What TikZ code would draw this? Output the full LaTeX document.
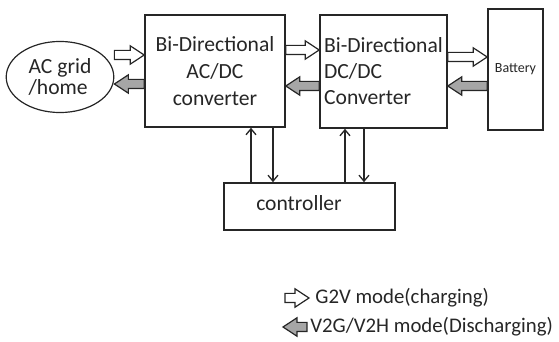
\documentclass[tikz,border=0pt]{standalone}
\usepackage{fontspec}
\setmainfont{Carlito}
\usetikzlibrary{shapes.geometric,arrows.meta,calc}

\tikzset{
  block/.style={draw=black!85, line width=0.8pt, inner sep=1pt},
  blockarrow/.style={draw=black!85, line width=0.6pt, fill=#1, line join=miter,
    to path={let \p1=(\tikztostart), \p2=(\tikztotarget),
      \n1={\x2-7pt*sign(\x2-\x1)} in
      (\x1,\y1+2.3pt) -- (\n1,\y1+2.3pt) -- (\n1,\y1+4.6pt) -- (\x2,\y1)
      -- (\n1,\y1-4.6pt) -- (\n1,\y1-2.3pt) -- (\x1,\y1-2.3pt) -- cycle}},
  ctlarrow/.style={draw=black!85, line width=0.65pt, -{Straight Barb[length=3pt,width=5pt]}},
  legend/.style={anchor=west, font=\fontsize{10.4}{12}\selectfont},
}

\begin{document}
\begin{tikzpicture}[x=0.5pt, y=-0.5pt, font=\fontsize{10.8}{13.5}\selectfont, text=black!85]
  \useasboundingbox (0,0) rectangle (559,342);

  % grid, converters and battery
  \node[ellipse, draw=black!85, line width=0.6pt, minimum width=48.5pt, minimum height=35pt,
        align=left, font=\fontsize{10.8}{10.5}\selectfont] (grid) at (60,77) {AC grid\\/home};
  \node[block, minimum width=70pt, minimum height=56pt, align=center] (acdc) at (215,71)
        {Bi-Directional\\AC/DC\\converter};
  \node[block, minimum width=63.5pt, minimum height=56.5pt, align=left,
        font=\fontsize{10.8}{13}\selectfont] (dcdc) at (383.5,71.5)
        {Bi-Directional\\DC/DC\\Converter};
  \node[block, minimum width=27.5pt, minimum height=60.5pt, font=\fontsize{7}{8}\selectfont]
        (battery) at (515.5,69.5) {Battery};
  \node[block, minimum width=85.5pt, minimum height=23.5pt] (ctrl) at (309.5,206.5) {};
  \node (ctrltext) at (299,203) {controller};

  % power flow
  \draw[blockarrow=white] (grid.east |- 0,55) to (acdc.west |- 0,55);
  \draw[blockarrow=black!35] (acdc.west |- 0,84) to (grid.east |- 0,84);
  \draw[blockarrow=white] (acdc.east |- 0,50) to (dcdc.west |- 0,50);
  \draw[blockarrow=black!35] (dcdc.west |- 0,86) to (acdc.east |- 0,86);
  \draw[blockarrow=white] (dcdc.east |- 0,57) to (battery.west |- 0,57);
  \draw[blockarrow=black!35] (battery.west |- 0,86) to (dcdc.east |- 0,86);

  % control signals
  \draw[ctlarrow] (ctrl.north -| 251,0) -- (acdc.south -| 251,0);
  \draw[ctlarrow] (acdc.south -| 273,0) -- (ctrl.north -| 273,0);
  \draw[ctlarrow] (ctrl.north -| 345,0) -- (dcdc.south -| 345,0);
  \draw[ctlarrow] (dcdc.south -| 364,0) -- (ctrl.north -| 364,0);

  % legend
  \coordinate (g2vtail) at (285,298);
  \node[legend, inner xsep=3pt] (g2v) at (309,298) {G2V mode(charging)};
  \draw[blockarrow=white] (g2vtail) to (g2v.west);
  \coordinate (v2gtip) at (283,327);
  \node[legend, inner xsep=1.5pt] (v2g) at (307,327) {V2G/V2H mode(Discharging)};
  \draw[blockarrow=black!35] (v2g.west) to (v2gtip);
\end{tikzpicture}
\end{document}
